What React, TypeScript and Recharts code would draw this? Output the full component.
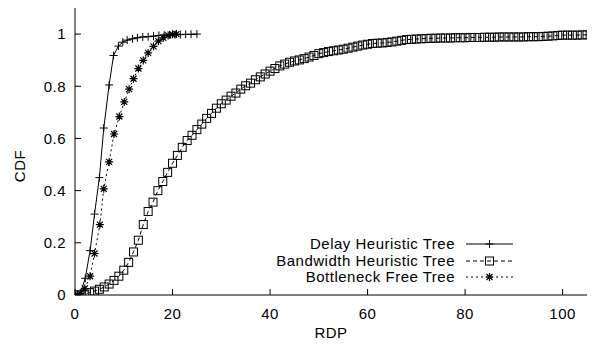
import { LineChart, Line, XAxis, YAxis, Legend } from 'recharts';

const FONT = '"Liberation Sans", Arial, Helvetica, sans-serif';

const seriesNames = ['Delay Heuristic Tree', 'Bandwidth Heuristic Tree', 'Bottleneck Free Tree'];

const delayX = [0.5, 1.1, 2.1, 3.1, 4.0, 5.0, 5.9, 7.0, 7.9, 8.9, 9.8, 10.7, 11.8, 12.8, 13.9, 15.0, 16.1, 17.2, 18.3, 19.4, 20.5, 21.6, 22.7, 23.8, 25.0];
const delayY = [0.0, 0.005, 0.064, 0.17, 0.31, 0.45, 0.64, 0.805, 0.918, 0.954, 0.969, 0.977, 0.982, 0.986, 0.989, 0.99, 0.992, 0.995, 0.996, 0.997, 0.998, 0.998, 0.999, 0.999, 1.0];

const bwX = [
  1, 2, 3, 4, 5, 6, 7, 8, 9, 10, 11, 12, 13, 14, 15, 16, 17, 18, 19, 20,
  21, 22, 23, 24, 25, 26, 27, 28, 29, 30, 31, 32, 33, 34, 35, 36, 37, 38, 39, 40,
  41, 42, 43, 44, 45, 46, 47, 48, 49, 50, 51, 52, 53, 54, 55, 56, 57, 58, 59, 60,
  61, 62, 63, 64, 65, 66, 67, 68, 69, 70, 71, 72, 73, 74, 75, 76, 77, 78, 79, 80,
  81, 82, 83, 84, 85, 86, 87, 88, 89, 90, 91, 92, 93, 94, 95, 96, 97, 98, 99, 100,
  101, 102, 103, 104, 105,
];
const bwY = [
  0.001, 0.004, 0.009, 0.015, 0.022, 0.031, 0.042, 0.056, 0.072, 0.095,
  0.125, 0.165, 0.21, 0.27, 0.32, 0.356, 0.4, 0.435, 0.47, 0.505,
  0.535, 0.566, 0.592, 0.612, 0.634, 0.655, 0.677, 0.696, 0.716, 0.733,
  0.747, 0.762, 0.774, 0.789, 0.802, 0.812, 0.825, 0.836, 0.847, 0.858,
  0.868, 0.878, 0.885, 0.892, 0.897, 0.901, 0.906, 0.912, 0.918, 0.925,
  0.929, 0.933, 0.936, 0.939, 0.942, 0.946, 0.95, 0.954, 0.958, 0.961,
  0.964, 0.965, 0.966, 0.968, 0.97, 0.973, 0.976, 0.979, 0.98, 0.981,
  0.982, 0.983, 0.984, 0.984, 0.985, 0.985, 0.985, 0.986, 0.986, 0.986,
  0.987, 0.987, 0.987, 0.988, 0.988, 0.988, 0.989, 0.989, 0.989, 0.989,
  0.989, 0.989, 0.99, 0.99, 0.99, 0.991, 0.992, 0.993, 0.995, 0.996,
  0.996, 0.996, 0.996, 0.997, 0.997,
];

const bnX = [0.5, 1.1, 2.0, 3.1, 4.0, 5.1, 5.9, 7.0, 8.0, 9.1, 10.1, 11.1, 12.0, 13.0, 14.0, 15.0, 16.1, 17.1, 18.1, 19.1, 20.0, 20.8];
const bnY = [0.0, 0.006, 0.025, 0.072, 0.159, 0.27, 0.407, 0.51, 0.617, 0.684, 0.74, 0.789, 0.829, 0.868, 0.899, 0.928, 0.953, 0.973, 0.986, 0.995, 0.999, 1.0];

const xTicks = [0, 20, 40, 60, 80, 100];
const yTicks = [0, 0.2, 0.4, 0.6, 0.8, 1];

const toPoints = (xs: number[], ys: number[]) => xs.map((x, i) => ({ x, y: ys[i] }));
const delayData = toPoints(delayX, delayY);
const bwData = toPoints(bwX, bwY);
const bnData = toPoints(bnX, bnY);

const R = 4;

function plusPath(cx: number, cy: number) {
  return `M${cx - R},${cy}H${cx + R}M${cx},${cy - R}V${cy + R}`;
}
function starPath(cx: number, cy: number) {
  const d = 3;
  return `${plusPath(cx, cy)}M${cx - d},${cy - d}L${cx + d},${cy + d}M${cx - d},${cy + d}L${cx + d},${cy - d}`;
}

function Marker({ kind, cx, cy }: { kind: number; cx: number; cy: number }) {
  if (kind === 1) {
    return <rect x={cx - R} y={cy - R} width={R * 2} height={R * 2} fill="none" stroke="#000" strokeWidth={1} />;
  }
  return <path d={kind === 0 ? plusPath(cx, cy) : starPath(cx, cy)} fill="none" stroke="#000" strokeWidth={kind === 2 ? 1.2 : 1} />;
}

const dot = (kind: number) => (props: any) => {
  const { cx, cy, index } = props;
  return (
    <g key={`m${kind}-${index}`}>
      <Marker kind={kind} cx={cx} cy={cy} />
    </g>
  );
};

const dashes = [undefined, '4 3', '2 3'];

const textStyle = { fontFamily: FONT, fontSize: 15, letterSpacing: 0.5 };

function LegendBox() {
  return (
    <div style={{ ...textStyle, color: '#000' }}>
      {seriesNames.map((name, i) => (
        <div key={name} style={{ display: 'flex', alignItems: 'center', justifyContent: 'flex-end', height: 16.5 }}>
          <span style={{ whiteSpace: 'nowrap', lineHeight: '16px' }}>{name}</span>
          <svg width={58} height={16} style={{ display: 'block' }}>
            <line x1={11} x2={58} y1={8} y2={8} stroke="#000" strokeWidth={1} strokeDasharray={dashes[i]} />
            <Marker kind={i} cx={34.5} cy={8} />
          </svg>
        </div>
      ))}
    </div>
  );
}

function YTitle() {
  return (
    <text x={19} y={166} transform="rotate(-90 19 166)" textAnchor="middle" dominantBaseline="central" style={textStyle} fill="#000">
      CDF
    </text>
  );
}

const tickStyle = { ...textStyle, fill: '#000' };

export default function App() {
  return (
    <div style={{ position: 'absolute', left: 0, top: 0, width: 594, height: 345, background: '#fff' }}>
      <LineChart width={594} height={345} margin={{ top: 8, right: 7, bottom: 0, left: 0 }}>
        <XAxis
          dataKey="x"
          type="number"
          domain={[0, 105]}
          ticks={xTicks}
          allowDataOverflow
          height={50}
          tickSize={-6}
          tickMargin={19}
          tick={tickStyle}
          stroke="#000"
          axisLine={{ stroke: '#000' }}
          tickLine={{ stroke: '#000' }}
          label={{ value: 'RDP', position: 'insideBottom', offset: 7, style: tickStyle }}
        />
        <XAxis
          xAxisId="top"
          orientation="top"
          type="number"
          domain={[0, 105]}
          ticks={xTicks}
          height={0}
          tickSize={-6}
          tick={false}
          axisLine={{ stroke: '#000' }}
          tickLine={{ stroke: '#000' }}
        />
        <YAxis
          type="number"
          domain={[0, 1.1]}
          ticks={yTicks}
          allowDataOverflow
          width={75}
          tickSize={-6}
          tickMargin={15}
          tick={tickStyle}
          axisLine={{ stroke: '#000' }}
          tickLine={{ stroke: '#000' }}
          label={{ content: () => <YTitle /> }}
        />
        <YAxis
          yAxisId="right"
          orientation="right"
          type="number"
          domain={[0, 1.1]}
          ticks={yTicks}
          width={0}
          tickSize={-6}
          tick={false}
          axisLine={{ stroke: '#000' }}
          tickLine={{ stroke: '#000' }}
        />
        <Legend
          layout="vertical"
          align="center"
          verticalAlign="middle"
          content={() => <LegendBox />}
          wrapperStyle={{ left: 155, top: 236, width: 358 }}
        />
        <Line
          name={seriesNames[0]}
          data={delayData}
          dataKey="y"
          type="linear"
          stroke="#000"
          strokeWidth={1}
          dot={dot(0)}
          activeDot={false}
          isAnimationActive={false}
        />
        <Line
          name={seriesNames[1]}
          data={bwData}
          dataKey="y"
          type="linear"
          stroke="#000"
          strokeWidth={1}
          strokeDasharray="4 3"
          dot={dot(1)}
          activeDot={false}
          isAnimationActive={false}
        />
        <Line
          name={seriesNames[2]}
          data={bnData}
          dataKey="y"
          type="linear"
          stroke="#000"
          strokeWidth={1}
          strokeDasharray="2 3"
          dot={dot(2)}
          activeDot={false}
          isAnimationActive={false}
        />
      </LineChart>
    </div>
  );
}
